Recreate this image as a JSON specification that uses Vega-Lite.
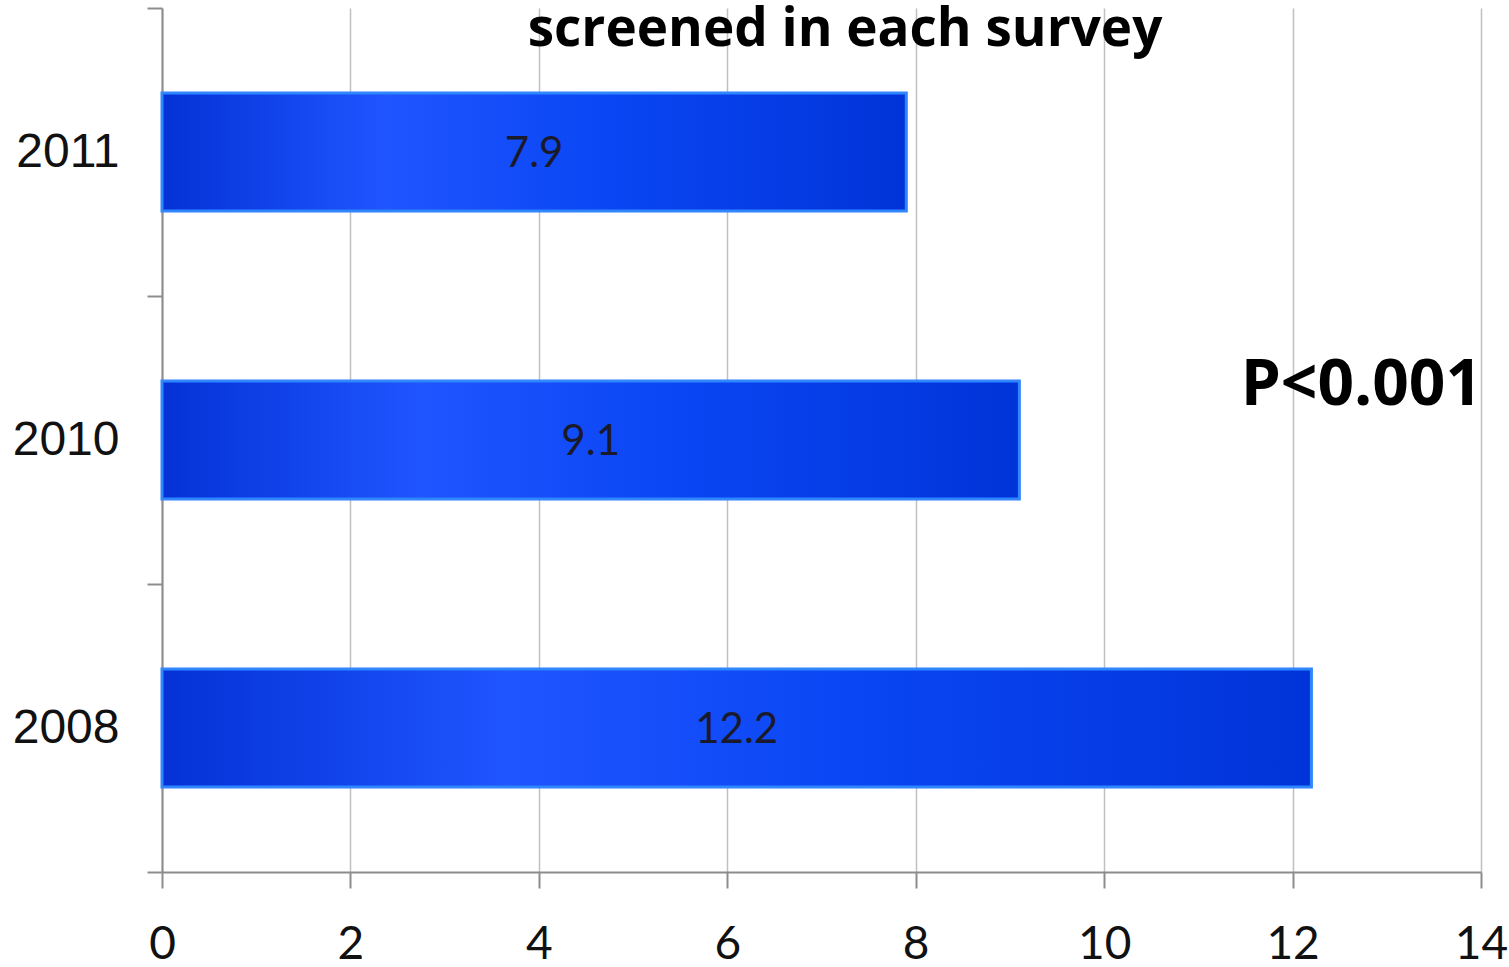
{
  "$schema": "https://vega.github.io/schema/vega-lite/v6.json",
  "width": 1319,
  "height": 864,
  "autosize": {"type": "none"},
  "padding": {"left": 162, "top": 8, "right": 28, "bottom": 95},
  "background": "white",
  "config": {"view": {"stroke": null}},
  "data": {
    "values": [
      {"year": "2011", "value": 7.9},
      {"year": "2010", "value": 9.1},
      {"year": "2008", "value": 12.2}
    ]
  },
  "encoding": {
    "y": {
      "field": "year",
      "type": "nominal",
      "sort": ["2011", "2010", "2008"],
      "scale": {"paddingInner": 0, "paddingOuter": 0},
      "axis": {
        "title": null,
        "grid": false,
        "domainColor": "#8c8c8c",
        "domainWidth": 2,
        "tickColor": "#8c8c8c",
        "tickWidth": 2,
        "tickSize": 15,
        "tickBand": "extent",
        "labelFont": "Liberation Sans",
        "labelFontSize": 48,
        "labelColor": "#111111",
        "labelPadding": 28
      }
    }
  },
  "layer": [
    {
      "mark": {
        "type": "bar",
        "height": {"band": 0.41},
        "fill": {
          "gradient": "linear",
          "x1": 0, "y1": 0, "x2": 1, "y2": 0,
          "stops": [
            {"offset": 0, "color": "#0432d6"},
            {"offset": 0.3, "color": "#1f55ff"},
            {"offset": 0.6, "color": "#0a46f4"},
            {"offset": 1, "color": "#0134d8"}
          ]
        },
        "stroke": "#2f86ff",
        "strokeWidth": 3
      },
      "encoding": {
        "x": {
          "field": "value",
          "type": "quantitative",
          "scale": {"domain": [0, 14], "nice": false},
          "axis": {
            "title": null,
            "values": [0, 2, 4, 6, 8, 10, 12, 14],
            "format": "d",
            "grid": true,
            "gridColor": "#c0c0c0",
            "gridWidth": 1.5,
            "domainColor": "#8c8c8c",
            "domainWidth": 2,
            "tickColor": "#8c8c8c",
            "tickWidth": 2,
            "tickSize": 16,
            "labelFont": "Lato",
            "labelFontSize": 46,
            "labelColor": "#111111",
            "labelPadding": 34,
            "labelFlush": false
          }
        }
      }
    },
    {
      "transform": [{"calculate": "datum.value / 2", "as": "mid"}],
      "mark": {
        "type": "text",
        "font": "Lato",
        "fontSize": 42,
        "color": "#1a1a2a",
        "align": "center",
        "baseline": "middle",
        "dy": 2
      },
      "encoding": {
        "x": {"field": "mid", "type": "quantitative"},
        "text": {"field": "value", "type": "quantitative", "format": ".1f"}
      }
    },
    {
      "data": {"values": [{"note": "P<0.001"}]},
      "mark": {
        "type": "text",
        "font": "Open Sans",
        "fontSize": 64,
        "fontWeight": "bold",
        "color": "black",
        "align": "center",
        "baseline": "alphabetic",
        "dy": -35
      },
      "encoding": {
        "x": {"datum": 12.73},
        "y": {"datum": "2010"},
        "text": {"field": "note"}
      }
    },
    {
      "data": {"values": [{"heading": "screened in each survey"}]},
      "mark": {
        "type": "text",
        "font": "Open Sans",
        "fontSize": 53,
        "fontWeight": "bold",
        "color": "black",
        "align": "center",
        "baseline": "alphabetic",
        "dy": -106
      },
      "encoding": {
        "x": {"datum": 7.25},
        "y": {"datum": "2011"},
        "text": {"field": "heading"}
      }
    }
  ]
}
